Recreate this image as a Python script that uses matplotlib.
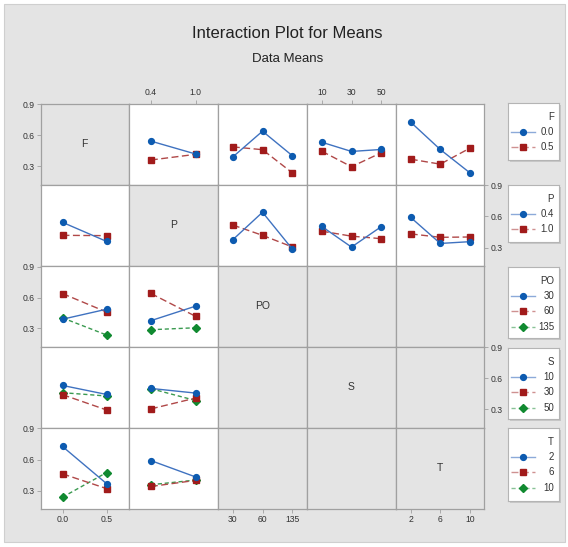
import matplotlib
matplotlib.use("Agg")
import matplotlib.pyplot as plt
import numpy as np
from matplotlib.colors import to_rgba
from matplotlib.patches import Rectangle

plt.rcParams["font.family"] = ["Liberation Sans", "DejaVu Sans"]

# factors and their levels
factors = ["F", "P", "PO", "S", "T"]
F_levels = ["0.0", "0.5"]
P_levels = ["0.4", "1.0"]
PO_levels = ["30", "60", "135"]
S_levels = ["10", "30", "50"]
T_levels = ["2", "6", "10"]

# two-way data means: rows = levels of first factor, cols = levels of second
F_P = [[0.543, 0.418], [0.360, 0.415]]
F_PO = [[0.390, 0.639, 0.403], [0.487, 0.460, 0.237]]
F_S = [[0.532, 0.443, 0.462], [0.445, 0.295, 0.430]]
F_T = [[0.726, 0.462, 0.237], [0.368, 0.320, 0.474]]
P_PO = [[0.376, 0.640, 0.288], [0.517, 0.418, 0.307]]
P_S = [[0.503, 0.305, 0.501], [0.458, 0.410, 0.386]]
P_T = [[0.590, 0.340, 0.357], [0.432, 0.399, 0.402]]

levels = {"F": F_levels, "P": P_levels, "PO": PO_levels, "S": S_levels, "T": T_levels}
pair_means = {
    ("F", "P"): F_P, ("F", "PO"): F_PO, ("F", "S"): F_S, ("F", "T"): F_T,
    ("P", "PO"): P_PO, ("P", "S"): P_S, ("P", "T"): P_T,
}

colors = ["#0d5bb0", "#a11b1b", "#108a30"]
line_colors = ["#3f72c0", "#b04848", "#3a9a50"]
markers = ["o", "s", "D"]
marker_sizes = [4.2, 4.0, 4.0]
dashes = [None, (5, 2.5), (3, 2)]

W, H = 568, 547
BG = "#e4e4e4"
EDGE = "#a0a0a0"
TXT = "#333333"

fig = plt.figure(figsize=(W / 100, H / 100), dpi=100)
fig.patch.set_facecolor("white")
fig.add_artist(Rectangle((4 / W, 1 - 542 / H), 561 / W, 538 / H,
                         transform=fig.transFigure, facecolor=BG,
                         edgecolor="#cfcfcf", lw=0.8, zorder=-10))


def px_axes(x0, y0, x1, y1):
    return fig.add_axes([x0 / W, 1 - y1 / H, (x1 - x0) / W, (y1 - y0) / H])


col_edges = [40.5, 128.5, 218, 307, 396, 484.5]
row_edges = [103.5, 184.5, 266, 346.7, 427.7, 509]
YLIM = (0.123, 0.907)

for i, rf in enumerate(factors):
    for j, cf in enumerate(factors):
        ax = px_axes(col_edges[j], row_edges[i], col_edges[j + 1], row_edges[i + 1])
        n = len(levels[cf])
        ax.set_xlim(-0.5, n - 0.5)
        ax.set_ylim(*YLIM)
        for sp in ax.spines.values():
            sp.set_color(EDGE)
            sp.set_linewidth(0.9)
        ax.tick_params(length=0, labelleft=False, labelbottom=False)
        ax.set_xticks([])
        ax.set_yticks([])

        if (rf, cf) in pair_means:
            M = np.array(pair_means[(rf, cf)])
        elif (cf, rf) in pair_means:
            M = np.array(pair_means[(cf, rf)]).T
        else:
            M = None

        if i == j:
            ax.set_facecolor(BG)
            ax.text(0.5, 0.5, rf, transform=ax.transAxes, ha="center",
                    va="center", fontsize=7.5, color=TXT)
        elif M is None:
            ax.set_facecolor(BG)
        else:
            ax.set_facecolor("white")
            x = np.arange(n)
            for k in range(M.shape[0]):
                ln, = ax.plot(x, M[k], color=line_colors[k], lw=1.0,
                              marker=markers[k], ms=marker_sizes[k],
                              mfc=colors[k], mec=colors[k], zorder=3 - k * 0.1)
                if dashes[k]:
                    ln.set_dashes(dashes[k])

        tick_kw = dict(length=3, width=0.6, color=EDGE, labelsize=6.2,
                       labelcolor=TXT, pad=1.5)
        # y ticks alternate between left and right edges
        if j == 0 and i % 2 == 0:
            ax.set_yticks([0.3, 0.6, 0.9])
            ax.tick_params(axis="y", left=True, labelleft=True, **tick_kw)
        if j == len(factors) - 1 and i % 2 == 1:
            ax.set_yticks([0.3, 0.6, 0.9])
            ax.yaxis.tick_right()
            ax.tick_params(axis="y", right=True, labelright=True, **tick_kw)
        # x ticks alternate between bottom and top edges
        if i == len(factors) - 1 and j % 2 == 0:
            ax.set_xticks(range(n))
            ax.set_xticklabels(levels[cf])
            ax.tick_params(axis="x", bottom=True, labelbottom=True, **tick_kw)
        if i == 0 and j % 2 == 1:
            ax.set_xticks(range(n))
            ax.set_xticklabels(levels[cf])
            ax.xaxis.tick_top()
            ax.tick_params(axis="x", top=True, labeltop=True, **tick_kw)

# legend boxes, one per factor
legend_boxes = [(103, 160), (185, 242), (267, 338), (348, 419), (428, 501)]
for f, (y0, y1) in zip(factors, legend_boxes):
    # soft shadow
    sh = px_axes(510, y0 + 2, 561, y1 + 2)
    sh.set_facecolor("#c8c8c8")
    sh.set_xticks([]); sh.set_yticks([])
    for sp in sh.spines.values():
        sp.set_visible(False)
    lg = px_axes(508, y0, 559, y1)
    lg.set_facecolor("white")
    lg.set_xlim(0, 51)
    lg.set_ylim(y1 - y0, 0)
    lg.set_xticks([]); lg.set_yticks([])
    for sp in lg.spines.values():
        sp.set_color("#b4b4b4")
        sp.set_linewidth(0.8)
    lg.text(46, 14, f, ha="right", va="center", fontsize=7, color=TXT)
    for k, lev in enumerate(levels[f]):
        yy = 29 + 15.3 * k
        ln, = lg.plot([3, 15, 27], [yy, yy, yy], color=to_rgba(line_colors[k], 0.6),
                      lw=1.0, marker=markers[k], ms=marker_sizes[k],
                      markevery=[1], mfc=colors[k], mec=colors[k])
        if dashes[k]:
            ln.set_dashes(dashes[k])
        lg.text(46, yy, lev, ha="right", va="center", fontsize=7, color=TXT)

fig.text(287 / W, 1 - 34 / H, "Interaction Plot for Means", ha="center",
         va="center", fontsize=12, color="#222222")
fig.text(288 / W, 1 - 59 / H, "Data Means", ha="center", va="center",
         fontsize=9.5, color="#222222")

fig.savefig("out.png", dpi=100, facecolor=fig.get_facecolor())
